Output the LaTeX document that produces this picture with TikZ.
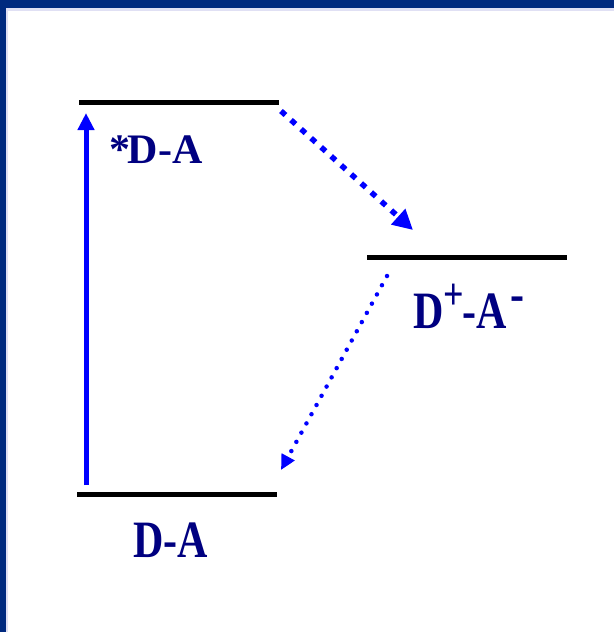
\documentclass[tikz,border=0pt]{standalone}
\usepackage{fontspec}
\setmainfont{Liberation Serif}
\usepackage{tikz}
\usetikzlibrary{arrows.meta}
\definecolor{frame}{HTML}{002A7F}
\definecolor{rim}{HTML}{E0E0F4}
\definecolor{navy}{HTML}{000080}
\definecolor{beam}{HTML}{0000FF}

\begin{document}
\begin{tikzpicture}[x=1pt,y=-1pt,
    stateline/.style={line width=5pt,black},
    statetext/.style={text=navy,inner sep=0pt,anchor=base west,font=\fontsize{42}{48}\bfseries\selectfont},
    pump/.style={beam,line width=5pt,-{Triangle[length=17pt,width=16pt]}},
    transfer/.style={beam,line width=5.5pt,dash pattern=on 6pt off 7.5pt,-{Triangle[length=20pt,width=20pt]}},
    recomb/.style={beam,line width=4.5pt,line cap=round,dash pattern=on 0pt off 10.5pt,-{Triangle[length=15pt,width=14pt]}}]
        \useasboundingbox (0,0) rectangle (614,632);
        \fill[white] (0,0) rectangle (614,632);
        % frame of the slide
        \fill[rim] (6,8) rectangle (614,10.5);
        \fill[rim] (6,8) rectangle (7.5,632);
        \fill[frame] (0,0) rectangle (614,8);
        \fill[frame] (0,0) rectangle (6,632);
        % energy levels
        \draw[stateline] (79,102) -- (279,102);
        \draw[stateline] (367,257) -- (567,257);
        \draw[stateline] (77,494) -- (277,494);
        \node[statetext] (excited) at (109,163) {*\kern-2.5pt D-A};
        \node[statetext] (chargesep) at (413,328) {\scalebox{1}[1.25]{D\raisebox{15pt}{\fontsize{36}{40}\selectfont+}\kern-1.5pt-A\kern4pt\raisebox{13pt}{-}}};
        \node[statetext] (ground) at (133,557) {\scalebox{1}[1.25]{D-A}};
        % transitions
        \coordinate (pumpS) at (86,485);
        \coordinate (pumpE) at (86,113);
        \coordinate (cetS) at (281,111);
        \coordinate (cetE) at (413,230);
        \coordinate (crS) at (387,276);
        \coordinate (crE) at (281,470);
        \draw[pump] (pumpS) -- (pumpE);
        \draw[transfer] (cetS) -- (cetE);
        \draw[recomb] (crS) -- (crE);
      \end{tikzpicture}
\end{document}
